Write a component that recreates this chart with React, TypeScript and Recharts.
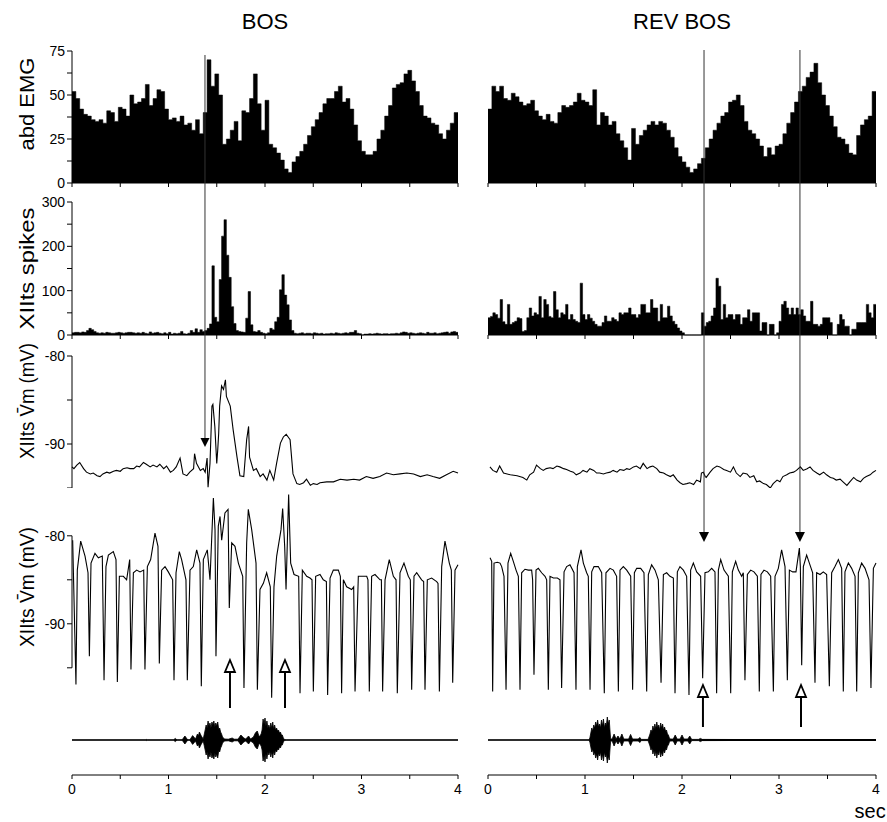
import React from 'react';
import { ComposedChart, Area, Line, XAxis, YAxis, ReferenceLine, ReferenceDot } from 'recharts';

const FONT = '"Liberation Sans", Arial, Helvetica, sans-serif';
const PAGE_W = 887;
const PAGE_H = 822;
const Y_AXIS_W = 60;

// each column is a full-width svg whose plot area is pushed into place by margins
const BOS_M = { left: 12, right: 429 };
const REV_M = { left: 488, right: 11 };

// ---------- data ----------
const secTicks = [0, 0.5, 1, 1.5, 2, 2.5, 3, 3.5, 4];
const emgTicks = [0, 12.5, 25, 37.5, 50, 62.5, 75];
const spikeTicks = [0, 50, 100, 150, 200, 250, 300];
const vmTicks = [-95, -90, -85, -80];

const emgBin = 0.04;
const emgBos = [
  52, 48, 42, 39, 38, 36, 35, 36, 34, 41, 40, 35, 43, 42, 38, 50, 45, 46, 48, 56,
  44, 48, 53, 52, 42, 36, 37, 35, 38, 33, 34, 30, 36, 28, 40, 70, 55, 62, 50, 22,
  25, 30, 35, 24, 41, 40, 48, 62, 45, 30, 47, 22, 20, 17, 13, 8, 6, 12, 15, 18,
  22, 27, 32, 36, 40, 45, 48, 48, 52, 55, 46, 48, 42, 33, 24, 18, 16, 16, 18, 25,
  30, 38, 44, 54, 56, 57, 62, 64, 58, 52, 44, 38, 37, 34, 33, 28, 25, 30, 34, 40,
];
const emgRev = [
  42, 55, 52, 55, 48, 47, 51, 49, 46, 44, 45, 47, 41, 38, 36, 39, 35, 34, 40, 44,
  43, 44, 46, 51, 47, 46, 44, 53, 33, 40, 38, 33, 35, 28, 24, 20, 13, 31, 22, 27,
  30, 33, 35, 33, 35, 34, 30, 26, 20, 15, 12, 9, 6, 8, 11, 14, 20, 25, 30, 34,
  38, 40, 46, 47, 50, 44, 35, 30, 28, 25, 21, 15, 20, 16, 21, 22, 28, 34, 40, 46,
  52, 55, 60, 63, 68, 57, 50, 44, 38, 32, 26, 25, 22, 17, 16, 27, 33, 36, 38, 52,
];

const spikeBin = 0.025;
const spikesBos = [
  5, 6, 6, 5, 7, 6, 10, 15, 12, 8, 5, 4, 5, 4, 6, 5, 4, 4, 5, 6,
  5, 4, 5, 6, 6, 5, 4, 5, 4, 6, 4, 3, 7, 4, 5, 6, 4, 3, 5, 3,
  6, 2, 4, 3, 4, 8, 3, 2, 4, 10, 6, 14, 6, 12, 8, 10, 15, 25, 156, 40,
  30, 125, 223, 260, 180, 130, 64, 26, 10, 8, 7, 6, 38, 98, 23, 8, 7, 10, 6, 4,
  3, 5, 15, 12, 30, 40, 102, 136, 90, 68, 34, 10, 4, 3, 4, 5, 3, 4, 4, 3,
  5, 4, 3, 4, 2, 3, 3, 4, 3, 5, 4, 3, 4, 5, 4, 6, 6, 10, 4, 3,
  0, 2, 2, 3, 2, 3, 4, 3, 2, 3, 3, 2, 3, 3, 4, 3, 5, 7, 6, 4,
  5, 4, 3, 4, 5, 4, 3, 6, 4, 4, 5, 3, 4, 5, 6, 7, 4, 7, 8, 6,
];
const spikesRev = [
  39, 42, 50, 46, 38, 80, 30, 24, 69, 24, 28, 31, 39, 37, 8, 10, 39, 61, 43, 50,
  46, 87, 39, 80, 69, 42, 39, 98, 57, 39, 50, 46, 69, 35, 46, 35, 31, 28, 117, 46,
  35, 46, 38, 31, 24, 20, 20, 28, 43, 31, 31, 39, 35, 31, 50, 46, 50, 50, 61, 46,
  46, 39, 46, 69, 69, 50, 50, 80, 61, 61, 31, 69, 39, 39, 65, 43, 31, 24, 16, 9,
  5, 0, 0, 0, 0, 0, 0, 0, 50, 20, 28, 31, 43, 61, 128, 110, 35, 69, 39, 46,
  46, 35, 46, 46, 24, 39, 39, 57, 31, 50, 50, 50, 9, 28, 28, 0, 24, 24, 0, 5,
  31, 69, 76, 61, 46, 61, 46, 61, 46, 57, 43, 31, 31, 76, 24, 24, 20, 24, 39, 39,
  39, 28, 0, 0, 24, 46, 35, 20, 20, 0, 13, 13, 28, 28, 28, 28, 69, 50, 39, 69,
];

// averaged membrane potential, [sec, mV]
const vmBos: [number, number][] = [
  [0, -92.6], [0.02, -92.8], [0.05, -92.4], [0.08, -92.1], [0.12, -92.8], [0.15, -93.2], [0.19, -93.4],
  [0.22, -93.3], [0.26, -93.6], [0.29, -93.7], [0.32, -93.4], [0.36, -93.2], [0.39, -93.3], [0.43, -93.1],
  [0.46, -93.0], [0.5, -93.1], [0.53, -92.8], [0.57, -92.7], [0.6, -92.8], [0.64, -92.8], [0.67, -92.5],
  [0.7, -92.6], [0.74, -92.1], [0.77, -92.3], [0.81, -92.6], [0.84, -92.4], [0.88, -92.6], [0.91, -92.3],
  [0.95, -92.8], [0.98, -92.5], [1.02, -93.2], [1.05, -93.0], [1.08, -92.6], [1.12, -91.6], [1.14, -92.8],
  [1.15, -93.4], [1.19, -93.6], [1.22, -93.2], [1.26, -92.8], [1.27, -91.1], [1.29, -92.2], [1.33, -93.0],
  [1.36, -92.8], [1.38, -93.2], [1.4, -91.6], [1.41, -94.9], [1.43, -92.2], [1.45, -85.7], [1.46, -85.5],
  [1.48, -88.0], [1.5, -92.2], [1.51, -90.7], [1.52, -88.8], [1.53, -85.7], [1.55, -83.4], [1.57, -83.8],
  [1.59, -82.7], [1.6, -84.6], [1.64, -85.7], [1.67, -88.4], [1.71, -91.5], [1.74, -93.6], [1.78, -93.7],
  [1.81, -89.5], [1.83, -88.0], [1.84, -91.5], [1.88, -93.0], [1.91, -92.8], [1.95, -93.7], [1.98, -93.4],
  [2.02, -94.1], [2.05, -93.0], [2.09, -94.1], [2.12, -92.2], [2.16, -89.9], [2.19, -89.2], [2.22, -88.9],
  [2.24, -89.2], [2.26, -89.5], [2.29, -93.4], [2.33, -94.5], [2.36, -94.6], [2.4, -94.4], [2.43, -94.0],
  [2.47, -94.7], [2.5, -94.5], [2.54, -94.6], [2.57, -94.4], [2.64, -94.3], [2.71, -94.3], [2.78, -94.0],
  [2.85, -94.1], [2.92, -94.0], [2.98, -94.1], [3.05, -93.7], [3.12, -93.9], [3.19, -93.7], [3.26, -93.3],
  [3.33, -93.5], [3.4, -93.4], [3.47, -93.3], [3.54, -93.4], [3.61, -93.7], [3.68, -93.5], [3.74, -93.7],
  [3.81, -93.9], [3.88, -93.5], [3.95, -93.1], [4, -93.3],
];
const vmRev: [number, number][] = [
  [0.02, -92.6], [0.05, -93.0], [0.09, -93.2], [0.12, -92.5], [0.16, -93.3], [0.23, -93.5], [0.3, -93.6],
  [0.36, -93.8], [0.4, -94.1], [0.43, -93.5], [0.47, -93.2], [0.5, -92.4], [0.54, -92.8], [0.57, -93.0],
  [0.6, -92.8], [0.64, -92.7], [0.67, -92.8], [0.71, -92.5], [0.74, -92.6], [0.78, -92.8], [0.81, -92.9],
  [0.85, -93.1], [0.88, -93.2], [0.91, -93.5], [0.95, -93.3], [0.98, -93.0], [1.02, -93.2], [1.05, -92.8],
  [1.09, -93.0], [1.12, -93.3], [1.15, -93.3], [1.19, -93.4], [1.22, -93.3], [1.26, -93.2], [1.29, -93.0],
  [1.33, -93.2], [1.36, -92.9], [1.4, -93.0], [1.43, -92.8], [1.46, -92.9], [1.5, -92.6], [1.53, -92.5],
  [1.57, -92.8], [1.6, -92.2], [1.64, -92.8], [1.67, -92.6], [1.7, -92.5], [1.74, -92.8], [1.77, -93.2],
  [1.81, -93.3], [1.84, -93.5], [1.88, -93.7], [1.91, -93.5], [1.95, -94.1], [1.98, -94.4], [2.01, -94.6],
  [2.05, -94.5], [2.08, -94.4], [2.12, -94.6], [2.15, -94.1], [2.19, -94.3], [2.2, -93.3], [2.22, -93.2],
  [2.24, -93.7], [2.25, -93.8], [2.29, -93.2], [2.32, -92.8], [2.36, -92.5], [2.39, -92.6], [2.43, -92.9],
  [2.46, -93.0], [2.5, -93.2], [2.53, -92.6], [2.56, -93.3], [2.6, -93.7], [2.63, -93.3], [2.67, -93.4],
  [2.7, -93.8], [2.74, -93.6], [2.77, -94.3], [2.8, -94.2], [2.84, -94.5], [2.87, -94.6], [2.91, -95.0],
  [2.94, -94.5], [2.98, -94.1], [3.01, -94.3], [3.04, -93.7], [3.08, -93.5], [3.11, -93.3], [3.15, -93.2],
  [3.18, -93.0], [3.22, -92.6], [3.25, -93.0], [3.29, -92.8], [3.32, -92.6], [3.35, -93.0], [3.39, -93.3],
  [3.42, -93.5], [3.46, -93.2], [3.49, -93.5], [3.53, -93.8], [3.56, -93.9], [3.59, -94.1], [3.63, -94.0],
  [3.66, -94.3], [3.7, -94.7], [3.73, -94.3], [3.77, -93.8], [3.8, -94.1], [3.84, -94.3], [3.87, -93.9],
  [3.9, -93.7], [3.94, -93.5], [3.97, -93.2], [4, -93.0],
];

// single-trial membrane potential with respiratory-rhythm troughs, [sec, mV]
const vmOscBos: [number, number][] = [
  [0.007, -80.5], [0.041, -96.9],
  [0.055, -83.9], [0.09, -80.6], [0.135, -82.3], [0.166, -84.2], [0.18, -93.7],
  [0.197, -83.1], [0.238, -82.0], [0.273, -82.5], [0.314, -82.3], [0.332, -96.4],
  [0.352, -83.5], [0.377, -82.2], [0.428, -81.8], [0.456, -82.7], [0.47, -96.6],
  [0.491, -84.6], [0.532, -84.6], [0.566, -85.0], [0.598, -82.7], [0.611, -95.2],
  [0.636, -84.2], [0.67, -83.9], [0.705, -84.1], [0.743, -83.9], [0.756, -95.2],
  [0.781, -83.5], [0.815, -82.7], [0.86, -79.7], [0.891, -81.2], [0.905, -94.5],
  [0.929, -83.9], [0.964, -83.5], [0.998, -84.1], [1.043, -85.0], [1.057, -96.4],
  [1.078, -84.2], [1.112, -81.8], [1.136, -82.7], [1.181, -85.0], [1.195, -96.4],
  [1.223, -83.9], [1.257, -83.5], [1.292, -81.6], [1.326, -83.1], [1.34, -97.1],
  [1.361, -82.7], [1.402, -81.6], [1.43, -85.0], [1.465, -75.7], [1.482, -79.3], [1.492, -93.7],
  [1.516, -78.9], [1.534, -77.8], [1.551, -80.5], [1.585, -77.4], [1.617, -77.0], [1.63, -88.2],
  [1.655, -80.8], [1.689, -81.2], [1.724, -83.1], [1.769, -84.6], [1.782, -97.3],
  [1.81, -80.8], [1.827, -77.0], [1.862, -79.3], [1.907, -83.1], [1.921, -97.5],
  [1.948, -86.1], [1.983, -85.4], [2.017, -84.2], [2.055, -85.8], [2.069, -98.4],
  [2.093, -85.8], [2.121, -82.3], [2.166, -79.3], [2.183, -76.9], [2.204, -81.2], [2.218, -86.1],
  [2.245, -75.3], [2.266, -83.1], [2.301, -84.4], [2.349, -84.6], [2.363, -97.9],
  [2.387, -83.9], [2.432, -84.6], [2.466, -84.8], [2.487, -85.0], [2.501, -97.7],
  [2.525, -84.6], [2.57, -84.4], [2.604, -85.0], [2.636, -85.2], [2.649, -98.1],
  [2.674, -84.8], [2.708, -83.9], [2.76, -83.9], [2.781, -84.6], [2.794, -97.9],
  [2.812, -85.0], [2.846, -85.8], [2.898, -86.1], [2.919, -85.8], [2.933, -97.7],
  [2.967, -84.6], [3.019, -84.6], [3.054, -84.6], [3.067, -85.0], [3.081, -97.7],
  [3.105, -84.6], [3.14, -84.4], [3.192, -85.0], [3.206, -85.0], [3.219, -97.7],
  [3.244, -85.0], [3.288, -82.7], [3.33, -84.6], [3.358, -85.0], [3.371, -97.9],
  [3.399, -84.2], [3.44, -83.1], [3.485, -84.6], [3.506, -85.0], [3.52, -97.5],
  [3.544, -84.6], [3.572, -84.2], [3.623, -85.0], [3.644, -85.2], [3.658, -97.5],
  [3.682, -85.0], [3.727, -84.8], [3.779, -85.2], [3.793, -85.4], [3.807, -97.7],
  [3.831, -83.5], [3.865, -80.6], [3.91, -83.1], [3.931, -83.9], [3.945, -96.7],
  [3.969, -83.9], [4, -83.3],
];
const vmOscRev: [number, number][] = [
  [0.021, -82.5], [0.038, -82.9], [0.048, -97.7],
  [0.062, -83.1], [0.096, -83.0], [0.124, -83.1], [0.141, -83.5], [0.165, -84.6], [0.186, -97.5],
  [0.206, -83.1], [0.234, -82.0], [0.261, -82.9], [0.289, -83.9], [0.313, -84.6], [0.33, -97.5],
  [0.347, -84.2], [0.381, -83.8], [0.416, -83.9], [0.45, -83.9], [0.46, -85.0], [0.474, -95.8],
  [0.495, -83.9], [0.519, -83.7], [0.553, -84.2], [0.588, -84.6], [0.605, -85.0], [0.622, -97.5],
  [0.639, -84.6], [0.674, -84.8], [0.715, -84.8], [0.742, -85.0], [0.759, -97.3],
  [0.784, -84.1], [0.811, -83.5], [0.845, -83.3], [0.887, -84.2], [0.907, -97.5],
  [0.921, -83.5], [0.959, -81.6], [0.983, -83.1], [1.017, -84.2], [1.034, -84.6], [1.052, -97.5],
  [1.069, -84.1], [1.093, -83.5], [1.137, -83.5], [1.172, -84.2], [1.199, -97.9],
  [1.216, -84.2], [1.258, -83.7], [1.292, -83.9], [1.326, -84.6], [1.344, -97.7],
  [1.361, -83.9], [1.395, -83.5], [1.43, -83.9], [1.471, -84.6], [1.491, -97.5],
  [1.509, -84.2], [1.533, -83.7], [1.574, -83.7], [1.608, -84.2], [1.636, -97.7],
  [1.653, -84.4], [1.687, -83.3], [1.722, -83.9], [1.756, -85.0], [1.784, -96.7],
  [1.808, -84.4], [1.842, -84.2], [1.876, -84.6], [1.911, -84.8], [1.928, -97.9],
  [1.952, -84.1], [1.979, -83.5], [2.014, -83.9], [2.048, -84.6], [2.072, -98.1],
  [2.089, -83.9], [2.117, -83.1], [2.151, -84.1], [2.192, -84.6], [2.213, -96.2],
  [2.237, -84.2], [2.271, -84.1], [2.306, -83.7], [2.34, -84.1], [2.357, -97.9],
  [2.375, -83.9], [2.399, -82.7], [2.433, -83.9], [2.478, -84.6], [2.502, -97.9],
  [2.519, -84.1], [2.553, -82.9], [2.581, -83.9], [2.615, -84.6], [2.632, -84.2], [2.649, -96.4],
  [2.674, -84.4], [2.708, -83.9], [2.742, -84.1], [2.777, -84.6], [2.797, -97.7],
  [2.814, -84.4], [2.845, -83.9], [2.88, -84.1], [2.914, -84.6], [2.942, -97.7],
  [2.959, -84.6], [2.993, -83.7], [3.027, -81.6], [3.062, -83.5], [3.086, -96.4],
  [3.107, -83.9], [3.141, -84.1], [3.175, -84.1], [3.21, -81.4], [3.22, -83.5], [3.234, -94.7],
  [3.251, -83.5], [3.285, -82.2], [3.313, -83.1], [3.347, -84.2], [3.371, -96.7],
  [3.388, -84.2], [3.423, -84.4], [3.457, -84.1], [3.491, -84.4], [3.519, -97.1],
  [3.543, -84.2], [3.577, -83.5], [3.612, -82.7], [3.646, -83.7], [3.663, -97.7],
  [3.68, -84.1], [3.715, -83.1], [3.749, -83.7], [3.784, -84.6], [3.801, -97.7],
  [3.818, -84.2], [3.852, -83.1], [3.887, -83.7], [3.928, -85.0], [3.948, -97.3],
  [3.973, -83.7], [4, -83.1],
];

// song amplitude envelope, [sec, relative amplitude]
const soundBos: [number, number][] = [
  [0, 0], [0.76, 0], [0.77, 0.03], [0.78, 0], [1.05, 0], [1.07, 0.08], [1.09, 0], [1.14, 0],
  [1.17, 0.2], [1.2, 0], [1.22, 0], [1.25, 0.22], [1.28, 0.05], [1.3, 0.3], [1.31, 0.2], [1.32, 0.4],
  [1.34, 0.2], [1.36, 0.05], [1.38, 0.5], [1.39, 0.75], [1.4, 0.6], [1.41, 0.95], [1.42, 0.7], [1.43, 0.85],
  [1.44, 0.6], [1.45, 0.9], [1.46, 0.75], [1.47, 0.95], [1.48, 0.65], [1.49, 0.85], [1.5, 0.7], [1.51, 0.9],
  [1.52, 0.55], [1.53, 0.6], [1.54, 0.4], [1.55, 0.3], [1.56, 0.15], [1.58, 0.05], [1.62, 0.04], [1.66, 0.1],
  [1.68, 0.04], [1.72, 0.04], [1.75, 0.25], [1.78, 0.1], [1.8, 0.05], [1.83, 0.2], [1.85, 0.05], [1.88, 0.15],
  [1.9, 0.35], [1.92, 0.45], [1.94, 0.15], [1.96, 0.3], [1.97, 0.5], [1.98, 1.05], [1.99, 0.8], [2.0, 1.1],
  [2.01, 0.7], [2.02, 0.95], [2.03, 0.6], [2.04, 0.75], [2.05, 0.55], [2.06, 0.85], [2.07, 0.6], [2.08, 0.9],
  [2.09, 0.55], [2.1, 0.75], [2.11, 0.5], [2.12, 0.6], [2.13, 0.45], [2.14, 0.5], [2.15, 0.35], [2.16, 0.4],
  [2.17, 0.25], [2.18, 0.25], [2.19, 0.1], [2.2, 0.03], [2.22, 0], [4, 0],
];
const soundRev: [number, number][] = [
  [0, 0], [1.04, 0], [1.05, 0.1], [1.06, 0.35], [1.07, 0.6], [1.08, 0.45], [1.09, 0.75], [1.1, 0.6],
  [1.11, 0.9], [1.12, 0.7], [1.13, 1.0], [1.14, 0.65], [1.15, 0.8], [1.16, 0.6], [1.17, 1.0], [1.18, 0.7],
  [1.19, 1.05], [1.2, 0.6], [1.21, 0.85], [1.22, 0.7], [1.23, 1.15], [1.24, 0.8], [1.25, 1.0], [1.26, 0.3],
  [1.265, 0.05], [1.28, 0.05], [1.3, 0.3], [1.32, 0.05], [1.34, 0.2], [1.36, 0.05], [1.38, 0.3], [1.4, 0.05],
  [1.45, 0.05], [1.47, 0.28], [1.49, 0.05], [1.55, 0.05], [1.565, 0.13], [1.58, 0.03], [1.65, 0.03], [1.67, 0.3],
  [1.68, 0.5], [1.69, 0.4], [1.7, 0.7], [1.71, 0.5], [1.72, 0.8], [1.73, 0.55], [1.74, 0.9], [1.75, 0.6],
  [1.76, 0.75], [1.77, 0.5], [1.78, 0.85], [1.79, 0.6], [1.8, 0.8], [1.81, 0.5], [1.82, 0.65], [1.83, 0.45],
  [1.84, 0.5], [1.85, 0.3], [1.86, 0.25], [1.87, 0.1], [1.88, 0.05], [1.91, 0.05], [1.93, 0.25], [1.95, 0.05],
  [1.98, 0.05], [2.0, 0.25], [2.02, 0.05], [2.06, 0.05], [2.08, 0.2], [2.1, 0.03], [2.17, 0.03], [2.19, 0.08],
  [2.21, 0.03], [4, 0],
];

// stimulus markers: filled = cue from top panels, open = rhythm reference
const cueArrowsBos = [{ t: 1.378, top: 55, tip: 447 }];
const cueArrowsRev = [{ t: 2.227, top: 50, tip: 542 }, { t: 3.216, top: 50, tip: 542 }];
const openArrowsBos = [{ t: 1.637, bottom: 708, tip: 660 }, { t: 2.207, bottom: 708, tip: 660 }];
const openArrowsRev = [{ t: 2.216, bottom: 727, tip: 685 }, { t: 3.227, bottom: 727, tip: 685 }];

// ---------- helpers ----------
const toSteps = (vals: number[], w: number) => [
  ...vals.map((v, i) => ({ t: +(i * w).toFixed(3), v })),
  { t: 4, v: vals[vals.length - 1] },
];
const toPts = (pairs: [number, number][]) => pairs.map(([t, v]) => ({ t, v }));
const toEnv = (pairs: [number, number][]) => pairs.map(([t, a]) => ({ t, env: [-a, a] }));

const tickStyle = { fill: '#000', fontSize: 14 };

const yTitle = (text: string, dy: number, len: number) => (props: any) => {
  const vb = props.viewBox || { x: 12, y: 0, width: 60, height: 0 };
  const x = vb.x + 22;
  const y = vb.y + vb.height / 2 + dy;
  return (
    <text x={x} y={y} transform={`rotate(-90 ${x} ${y})`} textAnchor="middle" fontSize={21}
      textLength={len} lengthAdjust="spacingAndGlyphs" fill="#000">{text}</text>
  );
};

const filledArrow = (head: number, half: number) => (p: any) => (
  <g>
    <line x1={p.x1} y1={p.y1} x2={p.x2} y2={p.y2 - head} stroke="#333" strokeWidth={1} />
    <polygon points={`${p.x2 - half},${p.y2 - head} ${p.x2 + half},${p.y2 - head} ${p.x2},${p.y2}`} fill="#000" />
  </g>
);
const openArrow = (head: number, half: number) => (p: any) => (
  <g>
    <line x1={p.x1} y1={p.y1} x2={p.x2} y2={p.y2 + head} stroke="#000" strokeWidth={2} />
    <polygon points={`${p.x2 - half},${p.y2 + head} ${p.x2 + half},${p.y2 + head} ${p.x2},${p.y2}`}
      fill="#fff" stroke="#000" strokeWidth={1.8} />
  </g>
);

type M = { left: number; right: number };

const Hist = ({ top, plotH, vals, bin, max, ticks, every, m, showY, title }: {
  top: number; plotH: number; vals: number[]; bin: number; max: number; ticks: number[];
  every: number; m: M; showY: boolean; title?: any;
}) => (
  <div style={{ position: 'absolute', left: 0, top: top - 30, width: PAGE_W, height: plotH + 40 }}>
    <ComposedChart width={PAGE_W} height={plotH + 40} data={toSteps(vals, bin)}
      margin={{ top: 30, bottom: 0, left: m.left, right: m.right }}>
      <XAxis dataKey="t" type="number" domain={[0, 4]} ticks={secTicks} tickFormatter={() => ''}
        tickSize={4} height={10} stroke="#000" />
      <YAxis type="number" domain={[0, max]} ticks={ticks} hide={!showY} width={Y_AXIS_W} tickSize={5}
        stroke="#000" tick={tickStyle} interval={0}
        tickFormatter={(v: number) => (v % every === 0 ? String(v) : '')} label={title} />
      <Area dataKey="v" type="stepAfter" fill="#000" fillOpacity={1} stroke="#000" strokeWidth={0.5}
        isAnimationActive={false} dot={false} activeDot={false} />
    </ComposedChart>
  </div>
);

const Trace = ({ top, plotH, pairs, domain, m, showY, ownAxisLine, title }: {
  top: number; plotH: number; pairs: [number, number][]; domain: [number, number]; m: M;
  showY: boolean; ownAxisLine?: boolean; title?: any;
}) => (
  <div style={{ position: 'absolute', left: 0, top: top - 40, width: PAGE_W, height: plotH + 40 }}>
    <ComposedChart width={PAGE_W} height={plotH + 40} data={toPts(pairs)}
      margin={{ top: 40, bottom: 0, left: m.left, right: m.right }}>
      <XAxis dataKey="t" type="number" domain={[0, 4]} hide />
      <YAxis type="number" domain={domain} ticks={vmTicks} hide={!showY} width={Y_AXIS_W} tickSize={5}
        stroke="#000" tick={tickStyle} interval={0} axisLine={!ownAxisLine}
        tickFormatter={(v: number) => (v === -80 || v === -90 ? String(v) : '')} label={title} />
      {showY && ownAxisLine && (
        <ReferenceLine segment={[{ x: 0, y: -80 }, { x: 0, y: -95 }]} stroke="#000" />
      )}
      <Line dataKey="v" type="linear" stroke="#000" strokeWidth={1.1} dot={false} activeDot={false}
        isAnimationActive={false} />
    </ComposedChart>
  </div>
);

const Sound = ({ pairs, m, thickFrom }: { pairs: [number, number][]; m: M; thickFrom?: number }) => (
  <div style={{ position: 'absolute', left: 0, top: 695, width: PAGE_W, height: 120 }}>
    <ComposedChart width={PAGE_W} height={120} data={toEnv(pairs)}
      margin={{ top: 10, bottom: 0, left: m.left, right: m.right }}>
      <XAxis dataKey="t" type="number" domain={[0, 4]} ticks={secTicks} interval={0} tickSize={4}
        tickMargin={5} height={40} stroke="#000" tick={tickStyle}
        tickFormatter={(v: number) => (Number.isInteger(v) ? String(v) : '')} />
      <YAxis type="number" domain={[-1.75, 1.75]} hide />
      <ReferenceLine y={0} stroke="#000" strokeWidth={1} />
      {thickFrom !== undefined && (
        <ReferenceLine segment={[{ x: thickFrom, y: 0 }, { x: 4, y: 0 }]} stroke="#000" strokeWidth={2} />
      )}
      <Area dataKey="env" type="linear" fill="#000" fillOpacity={1} stroke="#000" strokeWidth={0.8}
        isAnimationActive={false} dot={false} activeDot={false} />
    </ComposedChart>
  </div>
);

const Overlay = ({ plotLeft, plotRight, title, cues, opens, cueHead, extra }: {
  plotLeft: number; plotRight: number; title: string; cues: { t: number; top: number; tip: number }[];
  opens: { t: number; bottom: number; tip: number }[]; cueHead: [number, number]; extra?: boolean;
}) => (
  <div style={{ position: 'absolute', left: 0, top: 0, width: PAGE_W, height: PAGE_H, pointerEvents: 'none' }}>
    <ComposedChart width={PAGE_W} height={PAGE_H}
      data={[...cues.map((a) => ({ t: a.t, y: a.top })), ...opens.map((a) => ({ t: a.t, y: a.bottom }))]}
      margin={{ top: 0, bottom: 0, left: plotLeft, right: PAGE_W - plotRight }}>
      <XAxis dataKey="t" type="number" domain={[0, 4]} allowDataOverflow hide />
      <YAxis dataKey="y" type="number" domain={[0, PAGE_H]} allowDataOverflow reversed hide />
      <ReferenceDot x={2} y={21} r={1} fill="none" stroke="none"
        label={{ value: title, position: 'center', fontSize: 22, fill: '#000' }} />
      {extra && (
        <ReferenceDot x={3.94} y={811} r={1} fill="none" stroke="none"
          label={{ value: 'sec', position: 'center', fontSize: 20, fill: '#000' }} />
      )}
      {cues.map((a, i) => (
        <ReferenceLine key={`c${i}`} segment={[{ x: a.t, y: a.top }, { x: a.t, y: a.tip }]}
          shape={filledArrow(cueHead[0], cueHead[1])} />
      ))}
      {opens.map((a, i) => (
        <ReferenceLine key={`o${i}`} segment={[{ x: a.t, y: a.bottom }, { x: a.t, y: a.tip }]}
          shape={openArrow(12, 5)} />
      ))}
    </ComposedChart>
  </div>
);

export default function App() {
  return (
    <div style={{ position: 'absolute', left: 0, top: 0, width: PAGE_W, height: PAGE_H, background: '#fff', fontFamily: FONT }}>
      {/* abdominal EMG */}
      <Hist top={51} plotH={132} vals={emgBos} bin={emgBin} max={75} ticks={emgTicks} every={25} m={BOS_M} showY
        title={yTitle('abd EMG', -13, 93)} />
      <Hist top={51} plotH={132} vals={emgRev} bin={emgBin} max={75} ticks={emgTicks} every={25} m={REV_M} showY={false} />

      {/* XIIts spike histograms */}
      <Hist top={202} plotH={133} vals={spikesBos} bin={spikeBin} max={300} ticks={spikeTicks} every={100} m={BOS_M} showY
        title={yTitle('XIIts spikes', 0, 122)} />
      <Hist top={202} plotH={133} vals={spikesRev} bin={spikeBin} max={300} ticks={spikeTicks} every={100} m={REV_M} showY={false} />

      {/* averaged Vm */}
      <Trace top={356} plotH={132} pairs={vmBos} domain={[-95, -80]} m={BOS_M} showY
        title={yTitle('XIIts V\u0304m (mV)', -21, 116)} />
      <Trace top={356} plotH={132} pairs={vmRev} domain={[-95, -80]} m={REV_M} showY={false} />

      {/* Vm with respiratory rhythm */}
      <Trace top={483} plotH={220} pairs={vmOscBos} domain={[-99, -74]} m={BOS_M} showY ownAxisLine
        title={yTitle('XIIts V\u0304m (mV)', -6, 120)} />
      <Trace top={483} plotH={220} pairs={vmOscRev} domain={[-99, -74]} m={REV_M} showY={false} />

      {/* song oscillograms and time axis */}
      <Sound pairs={soundBos} m={{ left: BOS_M.left + Y_AXIS_W, right: BOS_M.right }} />
      <Sound pairs={soundRev} m={REV_M} thickFrom={2.2} />

      <Overlay plotLeft={72} plotRight={458} title="BOS" cues={cueArrowsBos} opens={openArrowsBos} cueHead={[9, 4.5]} />
      <Overlay plotLeft={488} plotRight={876} title="REV BOS" cues={cueArrowsRev} opens={openArrowsRev} cueHead={[10, 5]} extra />
    </div>
  );
}
